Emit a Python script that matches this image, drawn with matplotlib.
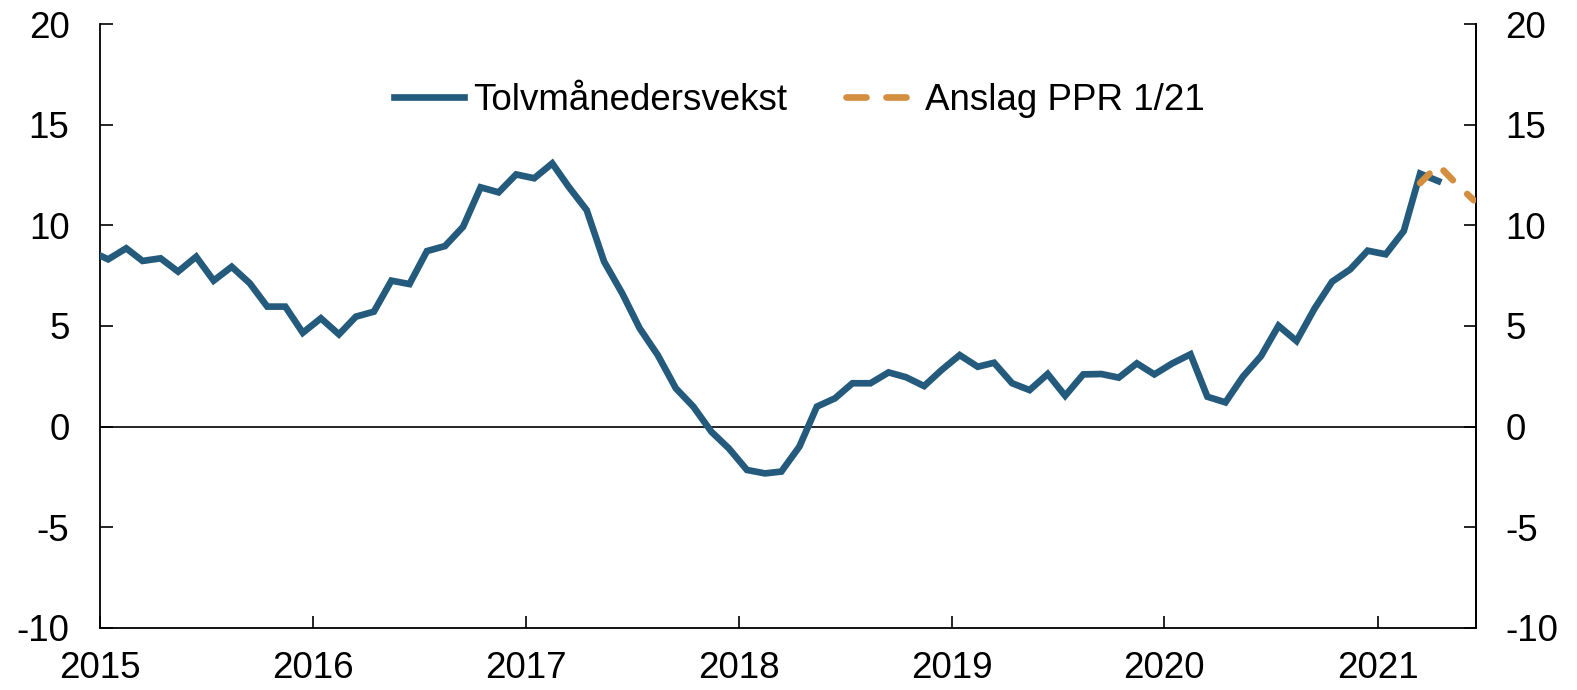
import numpy as np
import pandas as pd
import matplotlib
matplotlib.use("Agg")
import matplotlib.pyplot as plt
import matplotlib.dates as mdates

plt.rcParams['font.family'] = ['Liberation Sans', 'DejaVu Sans']
plt.rcParams['axes.unicode_minus'] = False

# tolvmånedersvekst, monthly from Dec 2014 to Apr 2021
vekst = [8.73,
         8.31, 8.86, 8.23, 8.36, 7.70, 8.44, 7.25, 7.94, 7.12, 5.96, 5.96, 4.66,
         5.38, 4.58, 5.46, 5.71, 7.25, 7.08, 8.72, 8.97, 9.93, 11.89, 11.64, 12.53,
         12.34, 13.08, 11.92, 10.76, 8.19, 6.62, 4.88, 3.55, 1.90, 0.99, -0.26, -1.09,
         -2.16, -2.33, -2.24, -1.00, 0.99, 1.40, 2.15, 2.15, 2.69, 2.45, 2.01, 2.81,
         3.55, 2.97, 3.17, 2.15, 1.81, 2.61, 1.53, 2.59, 2.61, 2.43, 3.14, 2.59,
         3.14, 3.59, 1.48, 1.20, 2.48, 3.50, 5.01, 4.25, 5.87, 7.20, 7.81, 8.74,
         8.56, 9.72, 12.57, 12.2]
vekst_start = '2014-12-01'

# anslag PPR 1/21, Mar 2021 - Jun 2021
anslag = [12.1, 13.0, 12.1, 11.25]
anslag_start = '2021-03-01'

blue = '#245b7d'
orange = '#d48e3f'

x_v = pd.date_range(vekst_start, periods=len(vekst), freq='MS') + pd.Timedelta(days=14)
x_a = pd.date_range(anslag_start, periods=len(anslag), freq='MS') + pd.Timedelta(days=14)

fig = plt.figure(figsize=(15.77, 6.9), dpi=100)
ax = fig.add_axes([0.0634, 0.0903, 0.8726, 0.8747])

ax.axhline(0, color='black', lw=1.2, zorder=1)
ax.plot(x_v, vekst, color=blue, lw=4.8, solid_joinstyle='miter',
        label='Tolvmånedersvekst', zorder=3)
ax.plot(x_a, anslag, color=orange, lw=4.8, dashes=(2, 3),
        dash_capstyle='round', label='Anslag PPR 1/21', zorder=4)

ax.set_ylim(-10, 20)
ax.set_yticks(range(-10, 21, 5))
ax.set_xlim(pd.Timestamp('2015-01-01'), pd.Timestamp('2021-06-19'))
ax.xaxis.set_major_locator(mdates.YearLocator())
ax.xaxis.set_major_formatter(mdates.DateFormatter('%Y'))

for s in ['left', 'right', 'bottom']:
    ax.spines[s].set_linewidth(1.3)
ax.spines['top'].set_visible(False)

fs = 26.5
ax.tick_params(axis='y', direction='in', length=9, width=1.2, labelsize=fs,
               left=True, right=False, labelleft=True, labelright=False, pad=22)
ax2 = ax.secondary_yaxis('right')
ax2.set_yticks(range(-10, 21, 5))
ax2.tick_params(direction='in', length=9, width=1.2, labelsize=fs, pad=21)
ax2.spines['right'].set_linewidth(1.3)
ax.tick_params(axis='x', direction='in', length=9, width=1.2, labelsize=fs, pad=17)

leg = ax.legend(loc='center', bbox_to_anchor=(0.508, 0.874), ncol=2, frameon=False,
                fontsize=fs, handlelength=1.9, handletextpad=0.25, columnspacing=1.6)
leg.get_lines()[1].set_dashes((3.0, 3.0))

fig.savefig('out.png', dpi=100)
